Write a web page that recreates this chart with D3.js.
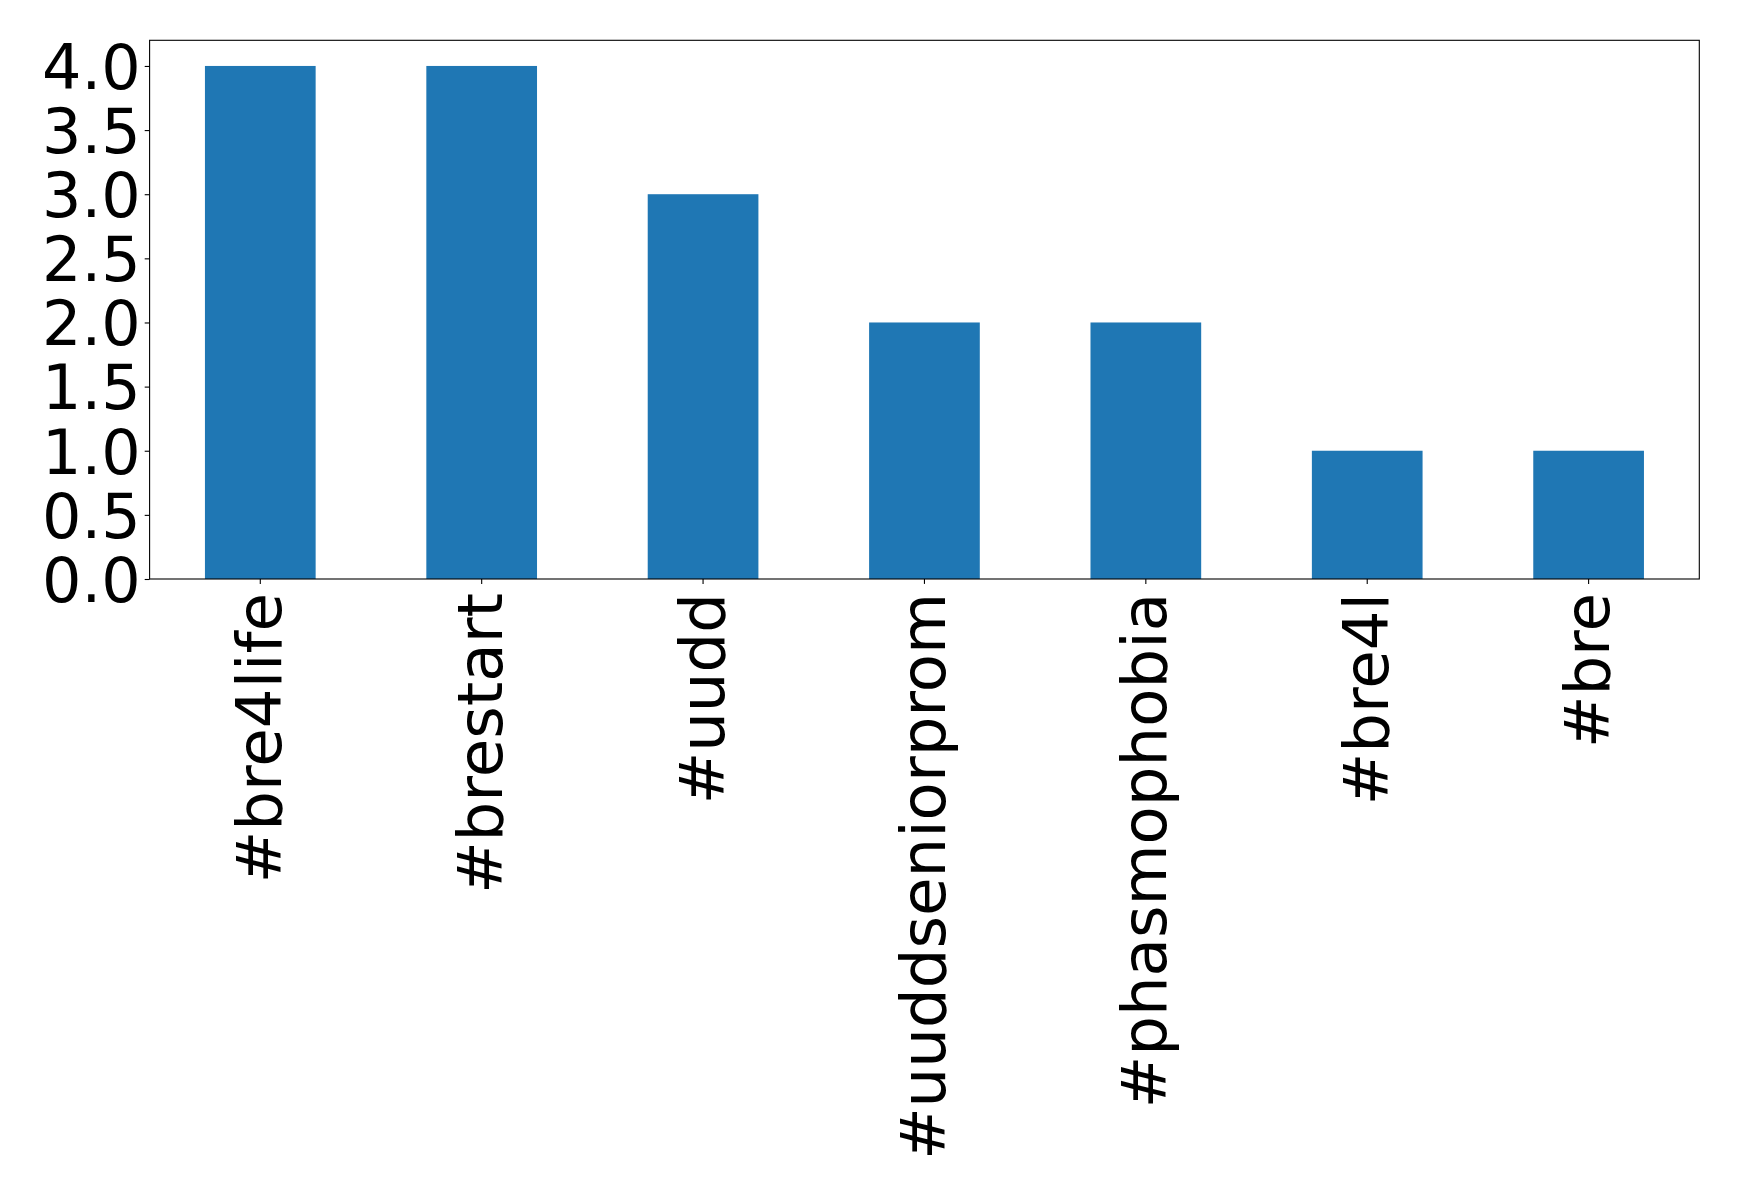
<!DOCTYPE html>
<html><head><meta charset="utf-8">
<script src="https://cdn.jsdelivr.net/npm/d3@7"></script>
<style>body{margin:0;background:#fff}svg{display:block}</style>
</head><body>
<script>
const categories = ["#bre4life","#brestart","#uudd","#uuddseniorprom","#phasmophobia","#bre4l","#bre"];
const values = [4,4,3,2,2,1,1];
const yTicks = [0,0.5,1,1.5,2,2.5,3,3.5,4];

const W = 1739, H = 1194;
const m = {left:149.6, right:1699.3, top:40.3, bottom:579};
const svg = d3.select("body").append("svg").attr("width",W).attr("height",H);

const x = d3.scaleBand().domain(categories).range([m.left,m.right]).paddingInner(0.5).paddingOuter(0.25);
const y = d3.scaleLinear().domain([0,4.2]).range([m.bottom,m.top]);

svg.append("g").selectAll("rect").data(values).join("rect")
  .attr("x",(d,i)=>x(categories[i]))
  .attr("width",x.bandwidth())
  .attr("y",d=>y(d))
  .attr("height",d=>y(0)-y(d))
  .attr("fill","#1f77b4");

const font = "DejaVu Sans";

const ya = svg.append("g").attr("transform",`translate(${m.left},0)`)
  .call(d3.axisLeft(y).tickValues(yTicks).tickFormat(d3.format(".1f")).tickSize(4.9).tickPadding(4));
ya.select(".domain").remove();
ya.selectAll("line").attr("stroke","#000").attr("stroke-width",1.1);
ya.selectAll("text").attr("font-family",font).attr("font-size",62).attr("fill","#000").attr("dy","0.36em");

const xa = svg.append("g").attr("transform",`translate(0,${m.bottom})`)
  .call(d3.axisBottom(x).tickSize(4.9).tickPadding(0));
xa.select(".domain").remove();
xa.selectAll("line").attr("stroke","#000").attr("stroke-width",1.1);
xa.selectAll("text").attr("font-family",font).attr("font-size",62.6).attr("fill","#000")
  .attr("y",null).attr("dy",null)
  .attr("text-anchor","end").attr("dominant-baseline","central")
  .attr("transform","translate(-1,14) rotate(-90)");

svg.append("rect").attr("x",m.left).attr("y",m.top)
  .attr("width",m.right-m.left).attr("height",m.bottom-m.top)
  .attr("fill","none").attr("stroke","#000").attr("stroke-width",1.1);
</script>
</body></html>
